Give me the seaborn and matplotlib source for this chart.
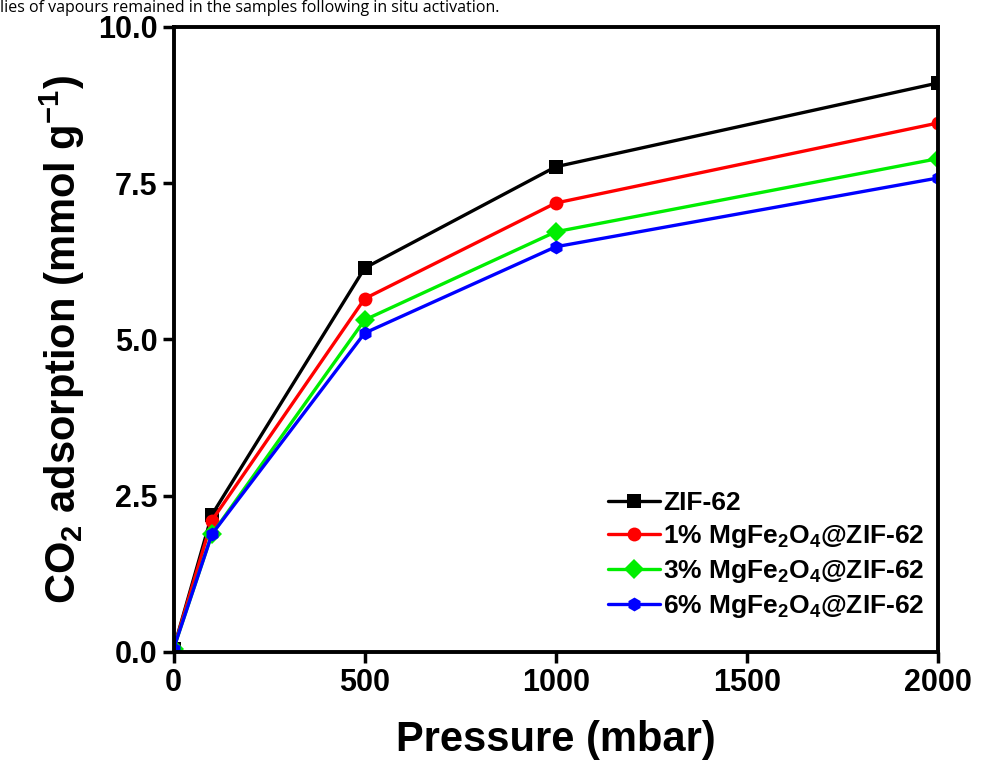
import matplotlib
matplotlib.use("Agg")
import matplotlib.pyplot as plt
import seaborn as sns
import numpy as np
import pandas as pd

sns.set_style("ticks")
plt.rcParams['font.family'] = ['Liberation Sans', 'DejaVu Sans']
plt.rcParams['font.weight'] = 'bold'
plt.rcParams['mathtext.fontset'] = 'custom'
plt.rcParams['mathtext.rm'] = 'Liberation Sans:bold'
plt.rcParams['mathtext.it'] = 'Liberation Sans:bold'
plt.rcParams['mathtext.bf'] = 'Liberation Sans:bold'
for k in ['text.color', 'axes.edgecolor', 'axes.labelcolor', 'xtick.color', 'ytick.color']:
    plt.rcParams[k] = 'black'

# data
pressure = [0, 100, 500, 1000, 2000]
zif62 = [0.05, 2.19, 6.14, 7.76, 9.10]
mg1 = [0.05, 2.10, 5.65, 7.18, 8.46]
mg3 = [0.05, 1.88, 5.31, 6.72, 7.89]
mg6 = [0.05, 1.88, 5.10, 6.48, 7.58]

labels = ["ZIF-62",
          "1% MgFe$_2$O$_4$@ZIF-62",
          "3% MgFe$_2$O$_4$@ZIF-62",
          "6% MgFe$_2$O$_4$@ZIF-62"]
colors = ["#000000", "#ff0000", "#00ee00", "#0000ff"]
markers = ["s", "o", "D", "h"]

rows = []
for lab, vals in zip(labels, [zif62, mg1, mg3, mg6]):
    for p, v in zip(pressure, vals):
        rows.append({"Pressure": p, "CO2": v, "sample": lab})
df = pd.DataFrame(rows)

fig = plt.figure(figsize=(9.81, 7.65), dpi=100)
ax = fig.add_axes([0.177, 0.148, 0.779, 0.817])

sns.lineplot(data=df, x="Pressure", y="CO2", hue="sample", style="sample",
             hue_order=labels, style_order=labels, palette=colors,
             markers=markers, dashes=False, linewidth=2.4, markersize=10,
             markeredgewidth=0, ax=ax)

ax.set_xlim(0, 2000)
ax.set_ylim(0, 10)
ax.set_xticks([0, 500, 1000, 1500, 2000])
ax.set_yticks([0, 2.5, 5.0, 7.5, 10.0])
ax.set_yticklabels(["0.0", "2.5", "5.0", "7.5", "10.0"])
ax.tick_params(width=2.5, length=8, labelsize=22, direction='out')
for s in ax.spines.values():
    s.set_linewidth(2.8)

ax.set_xlabel("Pressure (mbar)", fontsize=30, fontweight='bold', labelpad=16)
ax.set_ylabel("CO$_2$ adsorption (mmol g$^{-1}$)", fontsize=30, fontweight='bold', labelpad=8)

ax.legend(loc="lower right", frameon=False, fontsize=19, handlelength=2.0,
          handletextpad=0.1, labelspacing=0.3, borderaxespad=0.1,
          bbox_to_anchor=(1.0, 0.03))

fig.text(0.0, 1.0, "lies of vapours remained in the samples following in situ activation.",
         fontsize=11.5, fontweight='normal', family='Open Sans', va='top', ha='left')

plt.savefig("out.png", dpi=100)
